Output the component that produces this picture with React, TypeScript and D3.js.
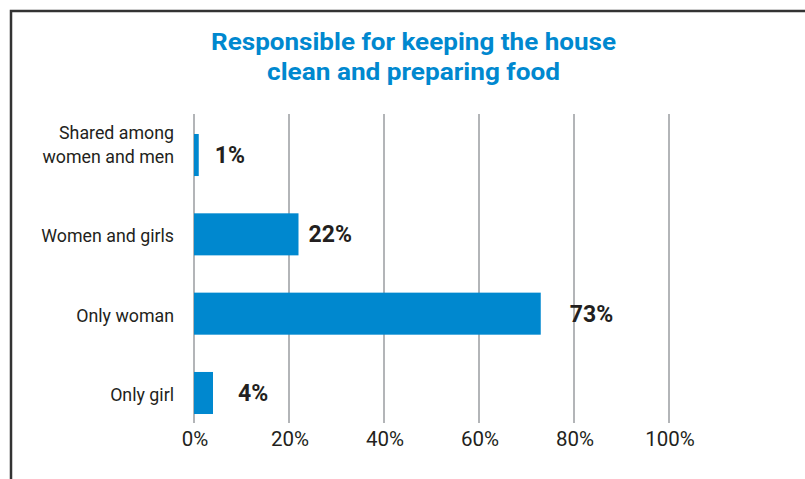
import React from "react";
import * as d3 from "d3";

const categories: string[][] = [
  ["Shared among", "women and men"],
  ["Women and girls"],
  ["Only woman"],
  ["Only girl"],
];
const values: number[] = [1, 22, 73, 4];
const valueLabels: string[] = ["1%", "22%", "73%", "4%"];
const ticks: number[] = [0, 20, 40, 60, 80, 100];
const titleLines: string[] = ["Responsible for keeping the house", "clean and preparing food"];

// small per-label nudges (style only)
const labelDx: number[] = [16, 10, 29, 25];

const W = 805;
const H = 479;
const BLUE = "#0088cf";
const FONT = "Roboto, 'DejaVu Sans', sans-serif";

export default function App() {
  const x = d3.scaleLinear().domain([0, 100]).range([194, 669]);
  const y = d3
    .scaleBand<number>()
    .domain(d3.range(categories.length))
    .range([114, 434])
    .paddingInner(0.47)
    .paddingOuter(0.252);
  const bw = y.bandwidth();

  return (
    <svg
      width={W}
      height={H}
      style={{ position: "absolute", left: 0, top: 0, background: "#fff" }}
      fontFamily={FONT}
    >
      <rect x={0} y={0} width={W} height={H} fill="#fff" />
      {/* frame */}
      <path d={`M11,${H + 5} L11,11 L${W + 5},11`} fill="none" stroke="#333" strokeWidth={2.5} />

      {/* title */}
      {titleLines.map((t, i) => (
        <text
          key={i}
          x={413.5}
          y={50 + i * 29.5}
          textAnchor="middle"
          fill={BLUE}
          fontWeight={700}
          fontSize={24}
          textLength={i === 0 ? 405 : 293}
          lengthAdjust="spacingAndGlyphs"
        >
          {t}
        </text>
      ))}

      {/* gridlines */}
      {ticks.map((t) => (
        <line
          key={t}
          x1={x(t)}
          x2={x(t)}
          y1={114}
          y2={423}
          stroke="#9a9ca0"
          strokeWidth={1.5}
        />
      ))}

      {/* bars */}
      {values.map((v, i) => (
        <rect key={i} x={x(0)} y={y(i)!} width={x(v) - x(0)} height={bw} fill={BLUE} />
      ))}

      {/* value labels */}
      {values.map((v, i) => (
        <text
          key={i}
          x={x(v) + labelDx[i]}
          y={y(i)! + bw / 2 + 8}
          fontSize={23}
          fontWeight={700}
          fill="#231f20"
        >
          {valueLabels[i]}
        </text>
      ))}

      {/* category labels */}
      {categories.map((lines, i) => {
        const cy = y(i)! + bw / 2;
        const n = lines.length;
        const base = n > 1 ? cy - 16 : cy + 8;
        return (
          <text key={i} textAnchor="end" fontSize={17.8} fill="#231f20">
            {lines.map((l, j) => (
              <tspan key={j} x={174} y={base + j * 24}>
                {l}
              </tspan>
            ))}
          </text>
        );
      })}

      {/* tick labels */}
      {ticks.map((t) => (
        <text key={t} x={x(t) + 1} y={446} textAnchor="middle" fontSize={20.5} fill="#231f20">
          {`${t}%`}
        </text>
      ))}
    </svg>
  );
}
